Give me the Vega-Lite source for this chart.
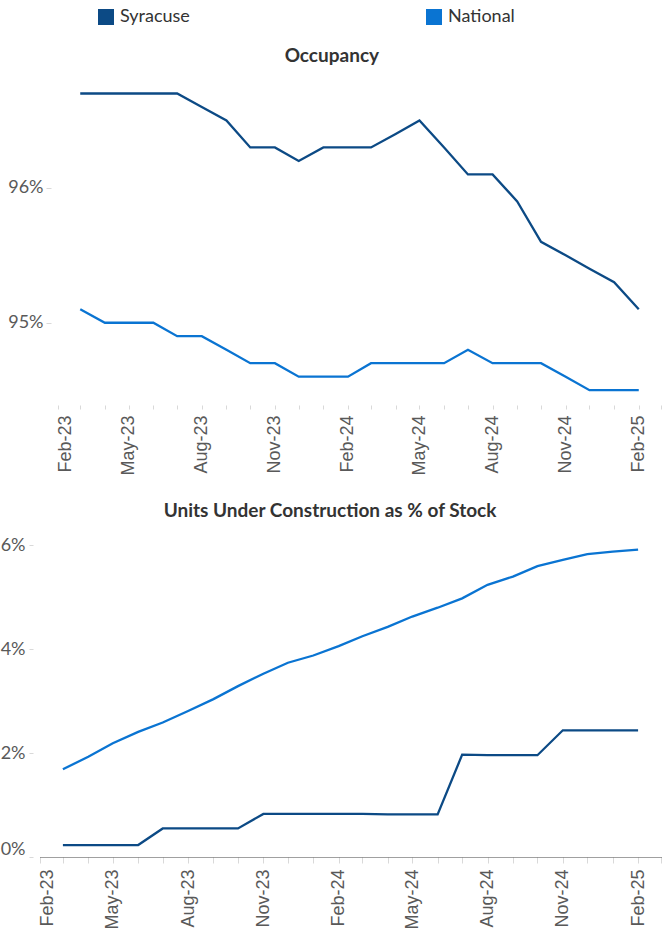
{
  "$schema": "https://vega.github.io/schema/vega-lite/v6.json",
  "padding": {"top": 8, "left": 0, "right": 0, "bottom": 0},
  "background": "white",
  "config": {"view": {"stroke": null}},
  "datasets": {
    "occ": [
      {"date": "2023-03-01", "series": "Syracuse", "value": 96.7},
      {"date": "2023-04-01", "series": "Syracuse", "value": 96.7},
      {"date": "2023-05-01", "series": "Syracuse", "value": 96.7},
      {"date": "2023-06-01", "series": "Syracuse", "value": 96.7},
      {"date": "2023-07-01", "series": "Syracuse", "value": 96.7},
      {"date": "2023-08-01", "series": "Syracuse", "value": 96.6},
      {"date": "2023-09-01", "series": "Syracuse", "value": 96.5},
      {"date": "2023-10-01", "series": "Syracuse", "value": 96.3},
      {"date": "2023-11-01", "series": "Syracuse", "value": 96.3},
      {"date": "2023-12-01", "series": "Syracuse", "value": 96.2},
      {"date": "2024-01-01", "series": "Syracuse", "value": 96.3},
      {"date": "2024-02-01", "series": "Syracuse", "value": 96.3},
      {"date": "2024-03-01", "series": "Syracuse", "value": 96.3},
      {"date": "2024-04-01", "series": "Syracuse", "value": 96.4},
      {"date": "2024-05-01", "series": "Syracuse", "value": 96.5},
      {"date": "2024-06-01", "series": "Syracuse", "value": 96.3},
      {"date": "2024-07-01", "series": "Syracuse", "value": 96.1},
      {"date": "2024-08-01", "series": "Syracuse", "value": 96.1},
      {"date": "2024-09-01", "series": "Syracuse", "value": 95.9},
      {"date": "2024-10-01", "series": "Syracuse", "value": 95.6},
      {"date": "2024-11-01", "series": "Syracuse", "value": 95.5},
      {"date": "2024-12-01", "series": "Syracuse", "value": 95.4},
      {"date": "2025-01-01", "series": "Syracuse", "value": 95.3},
      {"date": "2025-02-01", "series": "Syracuse", "value": 95.1},
      {"date": "2023-03-01", "series": "National", "value": 95.1},
      {"date": "2023-04-01", "series": "National", "value": 95.0},
      {"date": "2023-05-01", "series": "National", "value": 95.0},
      {"date": "2023-06-01", "series": "National", "value": 95.0},
      {"date": "2023-07-01", "series": "National", "value": 94.9},
      {"date": "2023-08-01", "series": "National", "value": 94.9},
      {"date": "2023-09-01", "series": "National", "value": 94.8},
      {"date": "2023-10-01", "series": "National", "value": 94.7},
      {"date": "2023-11-01", "series": "National", "value": 94.7},
      {"date": "2023-12-01", "series": "National", "value": 94.6},
      {"date": "2024-01-01", "series": "National", "value": 94.6},
      {"date": "2024-02-01", "series": "National", "value": 94.6},
      {"date": "2024-03-01", "series": "National", "value": 94.7},
      {"date": "2024-04-01", "series": "National", "value": 94.7},
      {"date": "2024-05-01", "series": "National", "value": 94.7},
      {"date": "2024-06-01", "series": "National", "value": 94.7},
      {"date": "2024-07-01", "series": "National", "value": 94.8},
      {"date": "2024-08-01", "series": "National", "value": 94.7},
      {"date": "2024-09-01", "series": "National", "value": 94.7},
      {"date": "2024-10-01", "series": "National", "value": 94.7},
      {"date": "2024-11-01", "series": "National", "value": 94.6},
      {"date": "2024-12-01", "series": "National", "value": 94.5},
      {"date": "2025-01-01", "series": "National", "value": 94.5},
      {"date": "2025-02-01", "series": "National", "value": 94.5}
    ],
    "uc": [
      {"date": "2023-03-01", "series": "Syracuse", "value": 0.23},
      {"date": "2023-04-01", "series": "Syracuse", "value": 0.23},
      {"date": "2023-05-01", "series": "Syracuse", "value": 0.23},
      {"date": "2023-06-01", "series": "Syracuse", "value": 0.23},
      {"date": "2023-07-01", "series": "Syracuse", "value": 0.55},
      {"date": "2023-08-01", "series": "Syracuse", "value": 0.55},
      {"date": "2023-09-01", "series": "Syracuse", "value": 0.55},
      {"date": "2023-10-01", "series": "Syracuse", "value": 0.55},
      {"date": "2023-11-01", "series": "Syracuse", "value": 0.83},
      {"date": "2023-12-01", "series": "Syracuse", "value": 0.83},
      {"date": "2024-01-01", "series": "Syracuse", "value": 0.83},
      {"date": "2024-02-01", "series": "Syracuse", "value": 0.83},
      {"date": "2024-03-01", "series": "Syracuse", "value": 0.83},
      {"date": "2024-04-01", "series": "Syracuse", "value": 0.82},
      {"date": "2024-05-01", "series": "Syracuse", "value": 0.82},
      {"date": "2024-06-01", "series": "Syracuse", "value": 0.82},
      {"date": "2024-07-01", "series": "Syracuse", "value": 1.97},
      {"date": "2024-08-01", "series": "Syracuse", "value": 1.96},
      {"date": "2024-09-01", "series": "Syracuse", "value": 1.96},
      {"date": "2024-10-01", "series": "Syracuse", "value": 1.96},
      {"date": "2024-11-01", "series": "Syracuse", "value": 2.44},
      {"date": "2024-12-01", "series": "Syracuse", "value": 2.44},
      {"date": "2025-01-01", "series": "Syracuse", "value": 2.44},
      {"date": "2025-02-01", "series": "Syracuse", "value": 2.44},
      {"date": "2023-03-01", "series": "National", "value": 1.69},
      {"date": "2023-04-01", "series": "National", "value": 1.93},
      {"date": "2023-05-01", "series": "National", "value": 2.19},
      {"date": "2023-06-01", "series": "National", "value": 2.41},
      {"date": "2023-07-01", "series": "National", "value": 2.59},
      {"date": "2023-08-01", "series": "National", "value": 2.81},
      {"date": "2023-09-01", "series": "National", "value": 3.04},
      {"date": "2023-10-01", "series": "National", "value": 3.29},
      {"date": "2023-11-01", "series": "National", "value": 3.53},
      {"date": "2023-12-01", "series": "National", "value": 3.74},
      {"date": "2024-01-01", "series": "National", "value": 3.88},
      {"date": "2024-02-01", "series": "National", "value": 4.06},
      {"date": "2024-03-01", "series": "National", "value": 4.25},
      {"date": "2024-04-01", "series": "National", "value": 4.43},
      {"date": "2024-05-01", "series": "National", "value": 4.63},
      {"date": "2024-06-01", "series": "National", "value": 4.80},
      {"date": "2024-07-01", "series": "National", "value": 4.98},
      {"date": "2024-08-01", "series": "National", "value": 5.24},
      {"date": "2024-09-01", "series": "National", "value": 5.40},
      {"date": "2024-10-01", "series": "National", "value": 5.60},
      {"date": "2024-11-01", "series": "National", "value": 5.72},
      {"date": "2024-12-01", "series": "National", "value": 5.83},
      {"date": "2025-01-01", "series": "National", "value": 5.88},
      {"date": "2025-02-01", "series": "National", "value": 5.92}
    ]
  },
  "spacing": 26,
  "vconcat": [
    {
      "data": {"name": "occ"},
      "width": 628,
      "height": 325,
      "title": {"text": "Occupancy", "font": "Lato", "fontSize": 19, "fontWeight": "bold", "color": "#333333", "offset": 14, "anchor": "middle", "frame": "bounds", "dx": -7},
      "mark": {"type": "line", "strokeWidth": 2.3, "interpolate": "linear"},
      "encoding": {
        "x": {
          "field": "date", "type": "temporal",
          "scale": {"type": "utc", "domain": [{"year": 2023, "month": 2, "date": 1, "utc": true}, {"year": 2025, "month": 3, "date": 1, "utc": true}], "range": [25, 628]},
          "axis": {
            "title": null, "grid": false, "domain": false,
            "tickCount": {"interval": "month", "step": 1},
            "tickSize": 4, "tickColor": "#d9d9d9",
            "labelExpr": "utcmonth(datum.value) % 3 == 1 ? utcFormat(datum.value, '%b-%y') : ''",
            "labelAngle": -90, "labelFont": "Liberation Sans", "labelFontSize": 18, "labelColor": "#595959",
            "labelPadding": 6, "labelOverlap": false, "labelFlush": false, "labelBound": false,
            "labelOffset": {"condition": {"test": "utcmonth(datum.value) == 1 && utcyear(datum.value) == 2023", "value": 7}, "value": 0}
          }
        },
        "y": {
          "field": "value", "type": "quantitative",
          "scale": {"domain": [94.39, 96.8], "zero": false, "nice": false},
          "axis": {
            "title": null, "grid": false, "domain": false, "values": [95, 96],
            "labelExpr": "datum.value + '%'",
            "tickSize": 5, "tickColor": "#d9d9d9", "offset": -18,
            "labelFont": "Lato", "labelFontSize": 18, "labelColor": "#595959", "labelPadding": 3
          }
        },
        "color": {
          "field": "series", "type": "nominal",
          "scale": {"domain": ["Syracuse", "National"], "range": ["#0C4A85", "#0A74D2"]},
          "legend": {
            "title": null, "orient": "none", "legendX": 64, "legendY": -72,
            "direction": "horizontal", "columns": 2, "columnPadding": 235,
            "symbolType": "square", "symbolSize": 256, "symbolStrokeWidth": 0, "symbolOpacity": 1,
            "labelFont": "Lato", "labelFontSize": 18, "labelColor": "#333333", "labelOffset": 5, "padding": 0,
            "encode": {"symbols": {"update": {"fill": {"scale": "color", "field": "value"}, "fillOpacity": {"value": 1}}}}
          }
        }
      }
    },
    {
      "data": {"name": "uc"},
      "width": 628,
      "height": 322,
      "title": {"text": "Units Under Construction as % of Stock", "font": "Lato", "fontSize": 19, "fontWeight": "bold", "color": "#333333", "offset": 14, "anchor": "middle", "frame": "bounds", "dx": -5},
      "mark": {"type": "line", "strokeWidth": 2.3, "interpolate": "linear"},
      "encoding": {
        "x": {
          "field": "date", "type": "temporal",
          "scale": {"type": "utc", "domain": [{"year": 2023, "month": 2, "date": 1, "utc": true}, {"year": 2025, "month": 3, "date": 1, "utc": true}], "range": [7, 628]},
          "axis": {
            "title": null, "grid": false, "domain": true, "domainDash": [1, 1], "domainColor": "#404040", "domainWidth": 1,
            "tickCount": {"interval": "month", "step": 1},
            "tickSize": 6, "tickColor": "#d9d9d9",
            "labelExpr": "utcmonth(datum.value) % 3 == 1 ? utcFormat(datum.value, '%b-%y') : ''",
            "labelAngle": -90, "labelFont": "Liberation Sans", "labelFontSize": 18, "labelColor": "#595959",
            "labelPadding": 6, "labelOverlap": false, "labelFlush": false, "labelBound": false,
            "labelOffset": {"condition": {"test": "utcmonth(datum.value) == 1 && utcyear(datum.value) == 2023", "value": 7}, "value": 0}
          }
        },
        "y": {
          "field": "value", "type": "quantitative",
          "scale": {"domain": [0, 6.2], "zero": false, "nice": false},
          "axis": {
            "title": null, "grid": false, "domain": false, "values": [0, 2, 4, 6],
            "labelExpr": "datum.value + '%'",
            "tickSize": 4, "tickColor": "#d9d9d9",
            "labelFont": "Lato", "labelFontSize": 18, "labelColor": "#595959", "labelPadding": 4,
            "labelOffset": {"condition": {"test": "datum.value == 0", "value": -8}, "value": 0}
          }
        },
        "color": {"field": "series", "type": "nominal"}
      }
    }
  ]
}
